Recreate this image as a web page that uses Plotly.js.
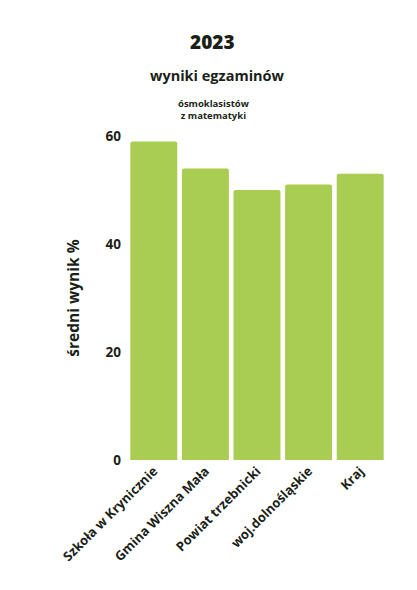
<!DOCTYPE html>
<html>
<head>
<meta charset="utf-8">
<script src="https://cdn.plot.ly/plotly-3.0.1.min.js"></script>
<style>html,body{margin:0;padding:0;background:#fff;}#chart{width:417px;height:590px;}</style>
</head>
<body>
<div id="chart"></div>
<script>
const categories = ["Szkoła w Krynicznie", "Gmina Wiszna Mała", "Powiat trzebnicki", "woj.dolnośląskie", "Kraj"];
const values = [59, 54, 50, 51, 53];
const yTicks = [0, 20, 40, 60];

const FONT = "Open Sans, Lato, sans-serif";
const TXT = "#1b1f17";

const data = [{
  type: "bar",
  x: categories,
  y: values,
  marker: {color: "#a9cd52", cornerradius: 2},
  hoverinfo: "x+y"
}];

const layout = {
  width: 417,
  height: 590,
  margin: {l: 128, r: 31, t: 136, b: 130},
  paper_bgcolor: "#ffffff",
  plot_bgcolor: "#ffffff",
  showlegend: false,
  bargap: 0.09,
  font: {family: FONT, color: TXT},
  xaxis: {
    tickangle: -45,
    tickfont: {family: FONT, size: 13, color: TXT, weight: 700},
    showgrid: false,
    zeroline: false,
    showline: false,
    ticks: ""
  },
  yaxis: {
    range: [0, 60],
    tickvals: yTicks,
    ticktext: yTicks.map(String),
    tickfont: {family: FONT, size: 13.5, color: TXT, weight: 700},
    showgrid: false,
    zeroline: false,
    showline: false,
    ticks: "",
    ticklabelstandoff: 6,
    title: {text: "średni wynik %", font: {family: FONT, size: 15.5, color: TXT, weight: 700}, standoff: 22}
  },
  annotations: [
    {text: "2023", xref: "paper", yref: "paper", x: 0.5, y: 1, xanchor: "center", yanchor: "middle",
     yshift: 94, xshift: -45, showarrow: false, font: {family: FONT, size: 19, color: TXT, weight: 800}},
    {text: "wyniki egzaminów", xref: "paper", yref: "paper", x: 0.5, y: 1, xanchor: "center", yanchor: "middle",
     yshift: 61, xshift: -40, showarrow: false, font: {family: FONT, size: 14.5, color: TXT, weight: 700}},
    {text: "ósmoklasistów<br>z matematyki", xref: "paper", yref: "paper", x: 0.5, y: 1, xanchor: "center", yanchor: "middle",
     yshift: 27, xshift: -43, showarrow: false, font: {family: FONT, size: 9.5, color: TXT, weight: 700}}
  ]
};

Plotly.newPlot("chart", data, layout, {displayModeBar: false, staticPlot: true});
</script>
</body>
</html>
